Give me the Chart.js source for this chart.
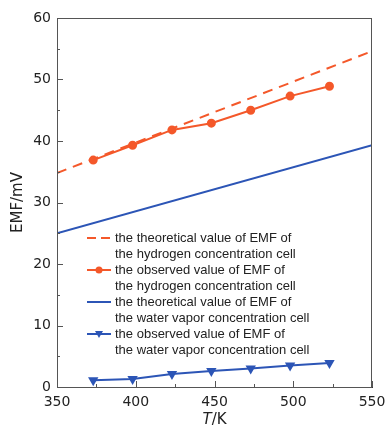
<!DOCTYPE html>
<html>
<head>
<meta charset="utf-8">
<script src="https://cdn.jsdelivr.net/npm/chart.js@4"></script>
<style>
  html, body { margin: 0; padding: 0; background: #fff; }
  #wrap { width: 385px; height: 428px; }
</style>
</head>
<body>
<div id="wrap"><canvas id="myChart" width="385" height="428"></canvas></div>
<script>
// temperatures (K) of the measured points
var temps = [373, 398, 423, 448, 473, 498, 523];
// observed EMF, hydrogen concentration cell (mV)
var h2Observed = [36.9, 39.3, 41.8, 42.9, 45.0, 47.3, 48.9];
// observed EMF, water vapor concentration cell (mV)
var waterObserved = [1.1, 1.3, 2.1, 2.6, 3.0, 3.5, 3.9];
// theoretical lines, ends of the plotted range
var theoryT = [350, 550];
var h2Theory = [34.8, 54.6];
var waterTheory = [25.0, 39.3];

var xTicks = [350, 400, 450, 500, 550];
var yTicks = [0, 10, 20, 30, 40, 50, 60];

var orange = '#f4582a';
var blue = '#2c55b6';
var font = "'Liberation Sans', Arial, sans-serif";
var tickFont = "'DejaVu Sans', sans-serif";

function pts(xs, ys) {
  return xs.map(function (x, i) { return { x: x, y: ys[i] }; });
}

// inward ticks, frame and the x title (T italic)
var framePlugin = {
  id: 'frame',
  afterDraw: function (chart) {
    var c = chart.ctx, a = chart.chartArea;
    var sx = chart.scales.x, sy = chart.scales.y;
    c.save();
    c.strokeStyle = '#555';
    c.lineWidth = 1;
    c.strokeRect(a.left + 0.5, a.top + 0.5, a.right - a.left - 1, a.bottom - a.top);
    c.beginPath();
    for (var v = 350; v <= 550; v += 25) {
      var px = Math.round(sx.getPixelForValue(v)) + 0.5;
      var len = (v % 50 === 0) ? 6 : 3;
      c.moveTo(px, a.bottom);
      c.lineTo(px, a.bottom - len);
    }
    for (var w = 0; w <= 60; w += 5) {
      var py = Math.round(sy.getPixelForValue(w)) + 0.5;
      var l2 = (w % 10 === 0) ? 6 : 3;
      c.moveTo(a.left, py);
      c.lineTo(a.left + l2, py);
    }
    c.stroke();

    // x title
    c.fillStyle = '#222';
    c.textBaseline = 'middle';
    c.font = '15px ' + tickFont;
    var t2 = '/K';
    var w2 = c.measureText(t2).width;
    c.font = 'italic 15px ' + tickFont;
    var t1 = 'T';
    var w1 = c.measureText(t1).width;
    var cx = (a.left + a.right) / 2;
    var sxp = cx - (w1 + w2) / 2;
    c.fillText(t1, sxp, 420);
    c.font = '15px ' + tickFont;
    c.fillText(t2, sxp + w1, 420);
    c.restore();
  }
};

// two-line legend inside the plot
var legendPlugin = {
  id: 'innerLegend',
  afterDraw: function (chart) {
    var c = chart.ctx;
    var x0 = 87, x1 = 111, tx = 115, y = 238, lh = 16;
    c.save();
    c.font = '13px ' + font;
    c.textBaseline = 'middle';
    chart.data.datasets.forEach(function (ds) {
      c.strokeStyle = ds.borderColor;
      c.lineWidth = 2;
      c.setLineDash(ds.borderDash ? [9, 5] : []);
      c.beginPath();
      c.moveTo(x0, y);
      c.lineTo(x1, y);
      c.stroke();
      c.setLineDash([]);
      if (ds.pointRadius > 0) {
        var mx = (x0 + x1) / 2;
        c.fillStyle = ds.backgroundColor;
        c.beginPath();
        if (ds.pointStyle === 'triangle') {
          c.moveTo(mx - 4, y - 3);
          c.lineTo(mx + 4, y - 3);
          c.lineTo(mx, y + 4);
          c.closePath();
        } else {
          c.arc(mx, y, 3.5, 0, Math.PI * 2);
        }
        c.fill();
      }
      c.fillStyle = '#222';
      ds.label.split('\n').forEach(function (line, i) {
        c.fillText(line, tx, y + i * lh);
      });
      y += lh * 2;
    });
    c.restore();
  }
};

var ctx = document.getElementById('myChart').getContext('2d');
var myChart = new Chart(ctx, {
  type: 'scatter',
  data: {
    datasets: [{
      label: 'the theoretical value of EMF of\nthe hydrogen concentration cell',
      data: pts(theoryT, h2Theory),
      showLine: true,
      borderColor: orange,
      backgroundColor: orange,
      borderWidth: 2,
      borderDash: [10, 7],
      pointRadius: 0
    }, {
      label: 'the observed value of EMF of\nthe hydrogen concentration cell',
      data: pts(temps, h2Observed),
      showLine: true,
      borderColor: orange,
      backgroundColor: orange,
      borderWidth: 2,
      pointRadius: 3.5,
      pointStyle: 'circle'
    }, {
      label: 'the theoretical value of EMF of\nthe water vapor concentration cell',
      data: pts(theoryT, waterTheory),
      showLine: true,
      borderColor: blue,
      backgroundColor: blue,
      borderWidth: 2,
      pointRadius: 0
    }, {
      label: 'the observed value of EMF of\nthe water vapor concentration cell',
      data: pts(temps, waterObserved),
      showLine: true,
      borderColor: blue,
      backgroundColor: blue,
      borderWidth: 2,
      pointRadius: 4,
      pointStyle: 'triangle',
      rotation: 180
    }]
  },
  options: {
    responsive: false,
    animation: false,
    layout: { padding: { top: 18, right: 13, left: 9, bottom: 0 } },
    plugins: {
      legend: { display: false },
      tooltip: { enabled: false }
    },
    scales: {
      x: {
        type: 'linear',
        min: 350, max: 550,
        afterBuildTicks: function (s) { s.ticks = xTicks.map(function (v) { return { value: v }; }); },
        afterFit: function (s) { s.height = 41; s.paddingLeft = 0; s.paddingRight = 0; },
        grid: { display: false, drawTicks: false },
        border: { display: true, color: '#333', width: 1 },
        ticks: { color: '#222', font: { family: tickFont, size: 14 }, padding: 7 }
      },
      y: {
        min: 0, max: 60,
        afterBuildTicks: function (s) { s.ticks = yTicks.map(function (v) { return { value: v }; }); },
        afterFit: function (s) { s.width = 48; s.paddingTop = 0; s.paddingBottom = 0; },
        grid: { display: false, drawTicks: false },
        border: { display: true, color: '#333', width: 1 },
        ticks: { color: '#222', font: { family: tickFont, size: 14 }, padding: 6 },
        title: {
          display: true,
          text: 'EMF/mV',
          color: '#222',
          font: { family: tickFont, size: 15 },
          padding: 0
        }
      }
    }
  },
  plugins: [framePlugin, legendPlugin]
});
</script>
</body>
</html>
